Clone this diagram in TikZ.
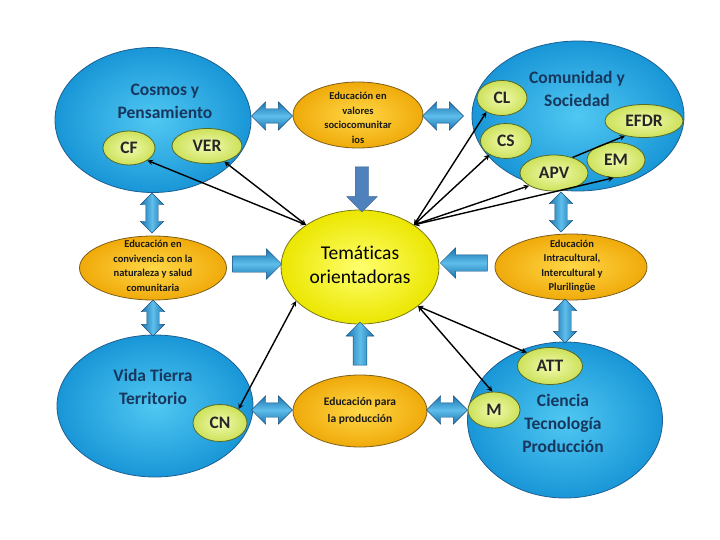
\documentclass[tikz,border=0pt]{standalone}
\usepackage{fontspec}
\setmainfont[Ligatures=NoCommon]{Carlito}
\usetikzlibrary{shapes.geometric,shapes.arrows,calc}
\definecolor{bluein}{RGB}{80,200,242}
\definecolor{blueout}{RGB}{25,150,215}
\definecolor{blueline}{RGB}{30,95,145}
\definecolor{orin}{RGB}{255,215,70}
\definecolor{orout}{RGB}{240,170,10}
\definecolor{orline}{RGB}{125,95,25}
\definecolor{yin}{RGB}{255,255,110}
\definecolor{yout}{RGB}{235,230,0}
\definecolor{yline}{RGB}{120,120,20}
\definecolor{gin}{RGB}{242,250,175}
\definecolor{gout}{RGB}{205,225,90}
\definecolor{gline}{RGB}{85,105,40}
\definecolor{arrin}{RGB}{95,190,235}
\definecolor{arrout}{RGB}{25,115,175}
\definecolor{arrline}{RGB}{25,80,125}
\definecolor{steel}{RGB}{79,129,189}
\definecolor{steelline}{RGB}{56,93,138}
\definecolor{navy}{RGB}{23,55,94}

\begin{document}
\begin{tikzpicture}[x=1pt,y=-1pt,
	area/.style={ellipse, draw=blueline, line width=0.8pt, inner color=bluein, outer color=blueout, inner sep=0pt},
	eje/.style={ellipse, draw=orline, line width=0.8pt, inner color=orin, outer color=orout, inner sep=0pt},
	campo/.style={ellipse, draw=gline, line width=0.8pt, inner color=gin, outer color=gout, inner sep=0pt},
	centro/.style={ellipse, draw=yline, line width=0.8pt, inner color=yin, outer color=yout, inner sep=0pt},
	titulo/.style={align=center, text=navy, font=\bfseries\fontsize{17.5}{23}\selectfont},
	ejetxt/.style={align=center, text=black!90, font=\bfseries\fontsize{10.5}{14.5}\selectfont},
	sigla/.style={text=black!85, font=\bfseries\fontsize{17.5}{20}\selectfont},
	hdbl/.style={double arrow, draw=arrline, top color=arrout, bottom color=arrout, middle color=arrin, inner sep=7pt, double arrow head extend=7pt, minimum height=41pt},
	vdbl/.style={double arrow, shape border rotate=90, draw=arrline, left color=arrout, right color=arrout, middle color=arrin, inner sep=6pt, double arrow head extend=5.5pt},
	flecha/.style={single arrow, draw=arrline, inner sep=8pt, single arrow head extend=7pt},
	enlace/.style={<->, >=stealth, line width=1.4pt, black}
]
\useasboundingbox (0,0) rectangle (720,540);

% areas
\node[area, minimum width=196pt, minimum height=145pt] (cosmos) at (153,120) {};
\node[area, minimum width=212pt, minimum height=150pt] (comunidad) at (578,116) {};
\node[area, minimum width=196pt, minimum height=142pt] (vida) at (155,406) {};
\node[area, minimum width=195pt, minimum height=156pt] (ciencia) at (565,420) {};

\node[titulo] (cosmos-t) at (165,101) {Cosmos y\\Pensamiento};
\node[titulo] (comunidad-t) at (577,89) {Comunidad y\\Sociedad};
\node[titulo] (vida-t) at (153,387) {Vida Tierra\\Territorio};
\node[titulo] (ciencia-t) at (563,423) {Ciencia\\Tecnología\\Producción};

% ejes articuladores
\node[eje, minimum width=130pt, minimum height=66pt] (valores) at (358,115) {};
\node[eje, minimum width=147pt, minimum height=64pt] (convivencia) at (153,268) {};
\node[eje, minimum width=152pt, minimum height=66pt] (intra) at (571,267) {};
\node[eje, minimum width=134pt, minimum height=72pt] (produccion) at (360,411) {};

\node[ejetxt] (valores-t) at (358,118) {Educación en\\valores\\sociocomunitar\\ios};
\node[ejetxt] (convivencia-t) at (153,266) {Educación en\\convivencia con la\\naturaleza y salud\\comunitaria};
\node[ejetxt] (intra-t) at (572,266) {Educación\\Intracultural,\\Intercultural y\\Plurilingüe};
\node[ejetxt, font=\bfseries\fontsize{11.5}{17}\selectfont] (produccion-t) at (360,411) {Educación para\\la producción};

% centro
\node[centro, minimum width=158pt, minimum height=114pt] (tema) at (360,267) {};
\node[align=center, text=black, font=\fontsize{19.5}{24}\selectfont] (tema-t) at (360,265) {Temáticas\\orientadoras};

% campos
\node[campo, minimum width=52pt, minimum height=34pt] (cf) at (129,148) {};
\node[sigla] (cf-t) at (cf) {CF};
\node[campo, minimum width=70pt, minimum height=35pt] (ver) at (207,146) {};
\node[sigla] (ver-t) at (ver) {VER};
\node[campo, minimum width=50pt, minimum height=35pt] (cl) at (502,98) {};
\node[sigla] (cl-t) at (cl) {CL};
\node[campo, minimum width=51pt, minimum height=35pt] (cs) at (506,141) {};
\node[sigla] (cs-t) at (cs) {CS};
\node[campo, minimum width=78pt, minimum height=33pt] (efdr) at (644,121) {};
\node[sigla] (efdr-t) at (efdr) {EFDR};
\node[campo, minimum width=58pt, minimum height=35pt] (em) at (616,160) {};
\node[sigla] (em-t) at (em) {EM};
\node[campo, minimum width=68pt, minimum height=36pt] (apv) at (554,173) {};
\node[sigla] (apv-t) at (apv) {APV};
\node[campo, minimum width=54pt, minimum height=37pt] (cn) at (220,423) {};
\node[sigla] (cn-t) at (cn) {CN};
\node[campo, minimum width=65pt, minimum height=37pt] (att) at (550,366) {};
\node[sigla] (att-t) at (att) {ATT};
\node[campo, minimum width=52pt, minimum height=36pt] (m) at (494,410) {};
\node[sigla] (m-t) at (m) {M};

% flechas de bloque
\node[hdbl, minimum width=28pt] (f1) at (272,116) {};
\node[hdbl, minimum width=28pt] (f2) at (443,116) {};
\node[hdbl, minimum width=28pt] (f3) at (272,410) {};
\node[hdbl, minimum width=28pt] (f4) at (447,410) {};
\node[vdbl, minimum width=23pt, minimum height=40pt] (f5) at (152,213) {};
\node[vdbl, minimum width=23pt, minimum height=40pt] (f6) at (561,212) {};
\node[vdbl, minimum width=23pt, minimum height=36pt] (f7) at (153,318) {};
\node[vdbl, minimum width=23pt, minimum height=44pt] (f8) at (565,321) {};
\node[flecha, top color=arrout, bottom color=arrout, middle color=arrin, minimum height=49pt, minimum width=30pt] (f9) at (253,264) {};
\node[flecha, shape border rotate=180, top color=arrout, bottom color=arrout, middle color=arrin, minimum height=47pt, minimum width=30pt] (f10) at (468,263) {};
\node[flecha, shape border rotate=270, fill=steel, draw=steelline, inner sep=6.5pt, single arrow head extend=8.5pt, minimum height=45pt, minimum width=30pt] (f11) at (362,186) {};
\node[flecha, shape border rotate=90, left color=arrout, right color=arrout, middle color=arrin, inner sep=6.5pt, minimum height=43pt, minimum width=28pt] (f12) at (360,347) {};

% enlaces
\draw[enlace] (tema.142) -- (cf.-34);
\draw[enlace] (tema.142) -- (ver.-42);
\draw[enlace] (tema.38) -- (cl.222);
\draw[enlace] (tema.38) -- (cs.220);
\draw[enlace] (tema.38) -- (apv.207);
\draw[enlace] (tema.38) -- (em.262);
\draw[->, >=stealth, line width=1.4pt] (apv.40) -- (efdr.218);
\draw[enlace] (tema.208) -- (cn.37);
\draw[enlace] (tema.326) -- (att.150);
\draw[enlace] (tema.326) -- (m.95);
\end{tikzpicture}
\end{document}
